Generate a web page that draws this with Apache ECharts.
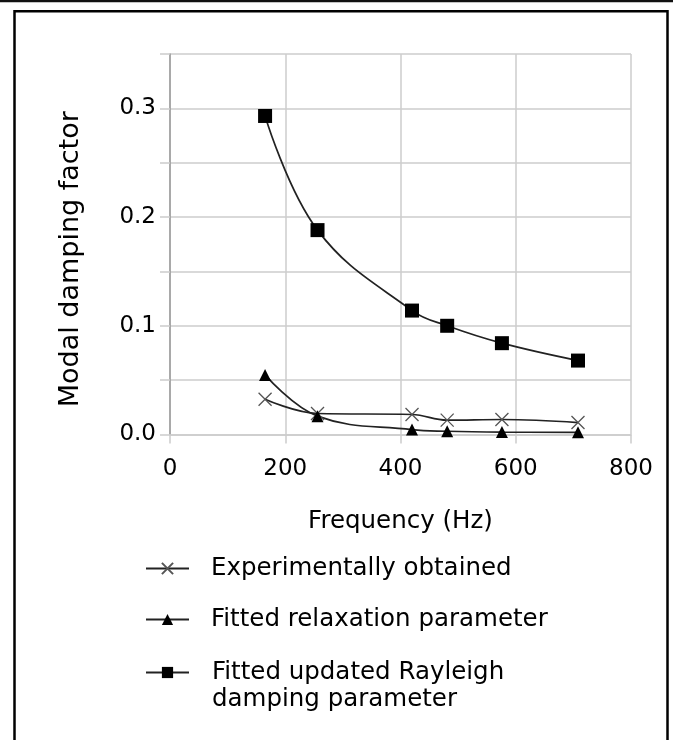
<!DOCTYPE html>
<html><head><meta charset="utf-8">
<script src="https://cdn.jsdelivr.net/npm/echarts@6/dist/echarts.min.js"></script>
<style>html,body{margin:0;padding:0;background:#fff}#c{width:673px;height:740px}</style>
</head><body><div id="c"></div>
<script>
// ---- data ----
const frequencies = [165, 256, 420, 481, 576, 708];
const experimental = [0.0325, 0.0193, 0.0184, 0.0132, 0.0138, 0.0110];
const relaxation = [0.0548, 0.0169, 0.0045, 0.0030, 0.0022, 0.0020];
const rayleigh = [0.293, 0.188, 0.114, 0.100, 0.084, 0.068];
const seriesNames = ['Experimentally obtained', 'Fitted relaxation parameter', 'Fitted updated Rayleigh\ndamping parameter'];
const xAxisName = 'Frequency (Hz)';
const yAxisName = 'Modal damping factor';

const pairs = vals => frequencies.map((f, i) => [f, vals[i]]);
const FONT = 'DejaVu Sans';
const chart = echarts.init(document.getElementById('c'), null, {renderer: 'canvas'});

const lineCol = '#222';
const legendBase = {
  orient: 'horizontal', left: 145, padding: 0, itemWidth: 43, itemHeight: 14,
  selectedMode: false
};

chart.setOption({
  animation: false,
  backgroundColor: '#fff',
  grid: {left: 170, right: 42, top: 54, bottom: 305.5, containLabel: false},
  xAxis: {
    type: 'value', min: 0, max: 800, interval: 200,
    name: xAxisName, nameLocation: 'middle', nameGap: 75,
    nameTextStyle: {fontFamily: FONT, fontSize: 24.5, color: '#000'},
    axisLine: {show: true, lineStyle: {color: '#ccc', width: 1.5}},
    axisTick: {show: true, length: 9, lineStyle: {color: '#ccc', width: 1.5}},
    axisLabel: {margin: 23, fontFamily: FONT, fontSize: 23, color: '#000'},
    splitLine: {show: true, lineStyle: {color: '#ccc', width: 1.5}}
  },
  yAxis: {
    type: 'value', min: 0, max: 0.35, interval: 0.05,
    name: yAxisName, nameLocation: 'middle', nameGap: 86,
    nameTextStyle: {fontFamily: FONT, fontSize: 27, color: '#000', padding: [0, 30, 0, 0]},
    axisLine: {show: true, lineStyle: {color: '#999', width: 1.5}},
    axisTick: {show: true, length: 10, lineStyle: {color: '#ccc', width: 1.5}},
    axisLabel: {
      margin: 14, fontFamily: FONT, fontSize: 23, color: '#000',
      formatter: v => (Math.abs(v * 10 - Math.round(v * 10)) < 1e-6) ? v.toFixed(1) : ''
    },
    splitLine: {show: true, lineStyle: {color: '#ccc', width: 1.5}}
  },
  legend: [
    Object.assign({}, legendBase, {top: 556, data: [seriesNames[0]],
      textStyle: {fontFamily: FONT, fontSize: 24.5, color: '#000', padding: [0, 0, 0, 17]}}),
    Object.assign({}, legendBase, {top: 607, data: [seriesNames[1]],
      textStyle: {fontFamily: FONT, fontSize: 24.5, color: '#000', padding: [0, 0, 0, 17]}}),
    Object.assign({}, legendBase, {top: 632, data: [seriesNames[2]],
      formatter: name => '\n' + name,
      textStyle: {fontFamily: FONT, fontSize: 24.5, color: '#000', lineHeight: 27, padding: [0, 0, 0, 18]}})
  ],
  series: [
    {
      name: seriesNames[0], type: 'line', smooth: 0.4, data: pairs(experimental),
      symbol: 'path://M0,0L10,10M10,0L0,10', symbolSize: 13, symbolKeepAspect: true,
      lineStyle: {color: lineCol, width: 1.7},
      itemStyle: {color: '#555', borderColor: '#555', borderWidth: 1.3}
    },
    {
      name: seriesNames[1], type: 'line', smooth: 0.4, data: pairs(relaxation),
      symbol: 'triangle', symbolSize: 12,
      lineStyle: {color: lineCol, width: 1.7},
      itemStyle: {color: '#000', borderColor: '#000', borderWidth: 0}
    },
    {
      name: seriesNames[2], type: 'line', smooth: 0.4, data: pairs(rayleigh),
      symbol: 'rect', symbolSize: 14,
      lineStyle: {color: lineCol, width: 1.7},
      itemStyle: {color: '#000', borderColor: '#000', borderWidth: 0}
    }
  ],
  graphic: [
    {type: 'line', silent: true, shape: {x1: 0, y1: 1, x2: 673, y2: 1}, style: {stroke: '#111', lineWidth: 2.5}},
    {type: 'rect', silent: true, shape: {x: 14.5, y: 11.2, width: 653, height: 740}, style: {fill: 'none', stroke: '#000', lineWidth: 2.5}}
  ]
});
</script>
</body></html>
